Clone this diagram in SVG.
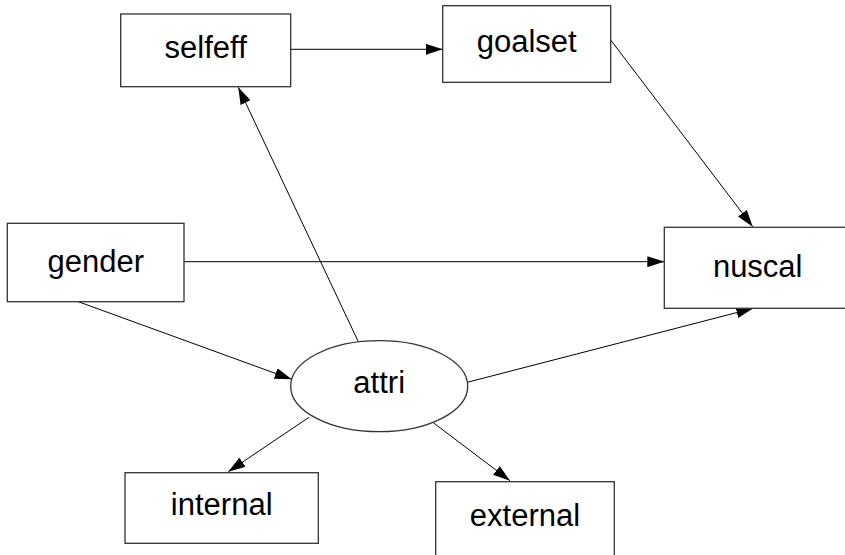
<svg xmlns="http://www.w3.org/2000/svg" width="845" height="555" viewBox="0 0 845 555">
<style>
.box{fill:#fff;stroke:#333;stroke-width:1.3}
.lbl{font-family:"Liberation Sans",Arial,sans-serif;font-size:31px;fill:#000;text-anchor:middle}
.edge{stroke:#000;stroke-width:1;fill:none;marker-end:url(#ah)}
</style>
<defs>
<marker id="ah" markerUnits="userSpaceOnUse" markerWidth="17" markerHeight="11" refX="17" refY="5.5" orient="auto">
<path d="M0,0 L17,5.5 L0,11 z" fill="#000"/>
</marker>
</defs>
<rect width="845" height="555" fill="#fff"/>
<g id="connectors">
<line class="edge" x1="290.7" y1="49.3" x2="442.7" y2="49.3"/>
<line class="edge" x1="610.7" y1="40" x2="752.7" y2="226.7"/>
<line class="edge" x1="184" y1="261.7" x2="664.3" y2="261.7"/>
<line class="edge" x1="78.3" y1="301.7" x2="291.7" y2="379.3"/>
<line class="edge" x1="358.3" y1="341.7" x2="238.3" y2="87.3"/>
<line class="edge" x1="467.3" y1="382.3" x2="753.3" y2="308.3"/>
<line class="edge" x1="309" y1="417.3" x2="228.3" y2="471.7"/>
<line class="edge" x1="433.3" y1="422.7" x2="510" y2="480.7"/>
</g>
<g id="selfeff"><rect class="box" x="120.7" y="14" width="170" height="72.7"/><text class="lbl" x="205.7" y="58.3">selfeff</text></g>
<g id="goalset"><rect class="box" x="442.7" y="5.7" width="168" height="76.6"/><text class="lbl" x="526.7" y="52.3">goalset</text></g>
<g id="gender"><rect class="box" x="7.3" y="223.3" width="176.7" height="78.4"/><text class="lbl" x="95.7" y="271.7">gender</text></g>
<g id="nuscal"><rect class="box" x="664.3" y="227.3" width="187" height="81"/><text class="lbl" x="757.7" y="277">nuscal</text></g>
<g id="attri"><ellipse class="box" cx="379.2" cy="386.2" rx="88.5" ry="45.5"/><text class="lbl" x="379.2" y="393">attri</text></g>
<g id="internal"><rect class="box" x="125" y="472.7" width="193.3" height="70.6"/><text class="lbl" x="221.7" y="515">internal</text></g>
<g id="external"><rect class="box" x="435.7" y="481.7" width="178.6" height="80"/><text class="lbl" x="525" y="525.7">external</text></g>
</svg>
